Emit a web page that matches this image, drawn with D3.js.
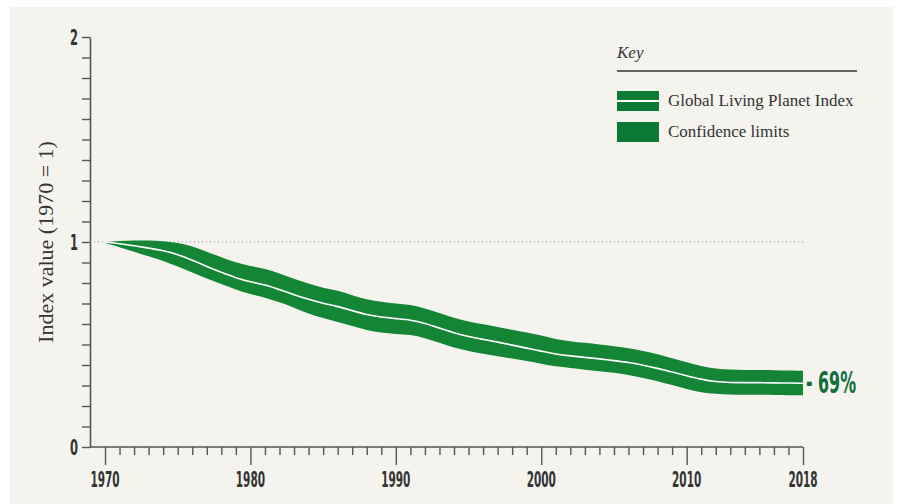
<!DOCTYPE html>
<html>
<head>
<meta charset="utf-8">
<script src="https://cdn.jsdelivr.net/npm/d3@7"></script>
<style>
  body { margin: 0; background: #ffffff; }
  svg { display: block; }
</style>
</head>
<body>
<svg id="chart" width="899" height="504"></svg>
<script>
// years 1970 - 2018
const years = d3.range(1970, 2019)

const lpi = [1.000, 0.992, 0.982, 0.970, 0.958, 0.940, 0.912, 0.880, 0.852, 0.825,
  0.805, 0.792, 0.768, 0.742, 0.720, 0.700, 0.686, 0.665, 0.645, 0.634,
  0.626, 0.620, 0.603, 0.580, 0.556, 0.538, 0.525, 0.512, 0.497, 0.482,
  0.468, 0.453, 0.444, 0.437, 0.430, 0.421, 0.413, 0.399, 0.384, 0.366,
  0.348, 0.330, 0.318, 0.314, 0.314, 0.314, 0.313, 0.312, 0.311]

const upperLimit = [1.000, 1.006, 1.008, 1.007, 1.005, 0.997, 0.980, 0.952, 0.926, 0.900,
  0.882, 0.870, 0.847, 0.820, 0.797, 0.775, 0.765, 0.740, 0.720, 0.708,
  0.700, 0.694, 0.677, 0.654, 0.630, 0.612, 0.598, 0.586, 0.572, 0.558,
  0.544, 0.526, 0.516, 0.508, 0.500, 0.492, 0.483, 0.468, 0.453, 0.433,
  0.414, 0.394, 0.381, 0.377, 0.376, 0.376, 0.375, 0.373, 0.372]

const lowerLimit = [0.996, 0.975, 0.953, 0.930, 0.908, 0.880, 0.852, 0.822, 0.795, 0.768,
  0.745, 0.730, 0.706, 0.680, 0.650, 0.628, 0.610, 0.590, 0.570, 0.558,
  0.551, 0.548, 0.532, 0.508, 0.484, 0.468, 0.455, 0.443, 0.431, 0.420,
  0.406, 0.392, 0.386, 0.377, 0.370, 0.362, 0.352, 0.337, 0.322, 0.302,
  0.283, 0.265, 0.260, 0.256, 0.255, 0.255, 0.254, 0.253, 0.252]

const xTickLabels = [1970, 1980, 1990, 2000, 2010, 2018]
const yTickLabels = [0, 1, 2]
const legendLabels = ["Global Living Planet Index", "Confidence limits"]
const changeLabel = "- 69%"
const yTitle = "Index value (1970 = 1)"

const green = "#138535"
const darkGreen = "#0b7a34"
const ink = "#333333"
const condensed = "'Liberation Sans Narrow', 'DejaVu Sans Condensed', 'Roboto', sans-serif"
const serif = "'Liberation Serif', 'DejaVu Serif', serif"

const svg = d3.select("#chart")

// panel
svg.append("rect")
  .attr("x", 10).attr("y", 7)
  .attr("width", 883).attr("height", 497)
  .attr("fill", "#f4f3ee")

const xScale = d3.scaleLinear().domain([1970, 2018]).range([105, 803])
const yScale = d3.scaleLinear().domain([0, 2]).range([447, 37])

const data = years.map((yr, i) => ({ year: yr, v: lpi[i], hi: upperLimit[i], lo: lowerLimit[i] }))

// squeeze the bold condensed labels like the original typeface
function narrow(sel, perChar) {
  sel.each(function () {
    const t = d3.select(this)
    t.attr("textLength", t.text().length * perChar).attr("lengthAdjust", "spacingAndGlyphs")
  })
}

// y axis: minor ticks each 0.1, labels at 0, 1, 2
const yAxis = svg.append("g")
  .attr("transform", "translate(90,0)")
  .call(d3.axisLeft(yScale).tickValues(d3.range(0, 2.01, 0.1)).tickSize(8).tickSizeOuter(0).tickFormat(""))
yAxis.select(".domain").attr("stroke", "#555").attr("stroke-width", 1.6)
yAxis.selectAll(".tick line").attr("stroke", "#555").attr("stroke-width", 1.4)

svg.append("g").selectAll("text")
  .data(yTickLabels)
  .join("text")
  .attr("x", 78)
  .attr("y", d => yScale(d) + 7.5)
  .attr("text-anchor", "end")
  .attr("font-family", condensed)
  .attr("font-weight", "bold")
  .attr("font-size", 21)
  .attr("fill", ink)
  .text(d => d)
  .call(narrow, 8)

// x axis: year ticks, longer ones at labels
const xAxis = svg.append("g")
  .attr("transform", `translate(0,${yScale(0)})`)
  .call(d3.axisBottom(xScale).tickValues(years).tickSize(8).tickSizeOuter(0).tickFormat(""))
xAxis.select(".domain").attr("d", `M90,0H${xScale(2018)}`).attr("stroke", "#555").attr("stroke-width", 1.6)
xAxis.selectAll(".tick line")
  .attr("stroke", "#555").attr("stroke-width", 1.4)
  .attr("y2", d => xTickLabels.includes(d) ? 18 : 8)

svg.append("g").selectAll("text")
  .data(xTickLabels)
  .join("text")
  .attr("x", d => xScale(d))
  .attr("y", 487)
  .attr("text-anchor", "middle")
  .attr("font-family", condensed)
  .attr("font-weight", "bold")
  .attr("font-size", 21)
  .attr("fill", ink)
  .text(d => d)
  .call(narrow, 7.3)

// y title
svg.append("text")
  .attr("transform", `translate(53,${yScale(1)}) rotate(-90)`)
  .attr("text-anchor", "middle")
  .attr("font-family", serif)
  .attr("font-size", 22)
  .attr("fill", ink)
  .text(yTitle)

// baseline at 1970 = 1
svg.append("line")
  .attr("x1", 90).attr("x2", xScale(2018))
  .attr("y1", yScale(1)).attr("y2", yScale(1))
  .attr("stroke", "#888")
  .attr("stroke-width", 1.2)
  .attr("stroke-dasharray", "1,3")

// confidence band
const band = d3.area()
  .x(d => xScale(d.year))
  .y0(d => yScale(d.lo))
  .y1(d => yScale(d.hi))
  .curve(d3.curveBasis)
svg.append("path")
  .datum(data)
  .attr("d", band)
  .attr("fill", green)

const line = d3.line()
  .x(d => xScale(d.year))
  .y(d => yScale(d.v))
  .curve(d3.curveBasis)
svg.append("path")
  .datum(data)
  .attr("d", line)
  .attr("fill", "none")
  .attr("stroke", "#ffffff")
  .attr("stroke-width", 1.6)

// change label at the end
svg.append("text")
  .attr("x", xScale(2018) + 3)
  .attr("y", yScale(lpi[lpi.length - 1]) + 10)
  .attr("font-family", condensed)
  .attr("font-weight", "bold")
  .attr("font-size", 30)
  .attr("fill", "#0f6e3a")
  .text(changeLabel)
  .call(narrow, 10)

// legend
const key = svg.append("g")
key.append("text")
  .attr("x", 617).attr("y", 58)
  .attr("font-family", serif)
  .attr("font-style", "italic")
  .attr("font-size", 17)
  .attr("fill", ink)
  .text("Key")
key.append("line")
  .attr("x1", 617).attr("x2", 857)
  .attr("y1", 71).attr("y2", 71)
  .attr("stroke", "#333").attr("stroke-width", 1.5)

const rows = key.selectAll("g.row")
  .data(legendLabels)
  .join("g")
  .attr("class", "row")
  .attr("transform", (d, i) => `translate(617,${91 + i * 31})`)
rows.append("rect")
  .attr("width", 42).attr("height", 20)
  .attr("fill", darkGreen)
rows.filter((d, i) => i === 0).append("rect")
  .attr("y", 9).attr("width", 42).attr("height", 2)
  .attr("fill", "#ffffff")
rows.append("text")
  .attr("x", 51).attr("y", 15)
  .attr("font-family", serif)
  .attr("font-size", 17)
  .attr("fill", ink)
  .text(d => d)
</script>
</body>
</html>
